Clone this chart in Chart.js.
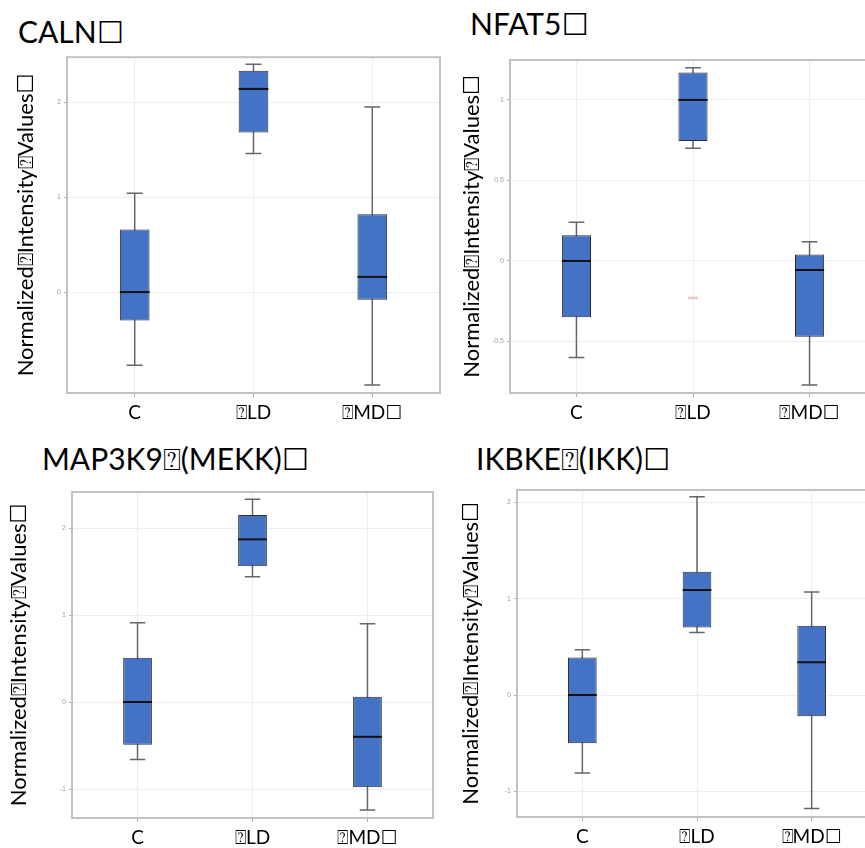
<!DOCTYPE html>
<html>
<head>
<meta charset="utf-8">
<script src="https://cdn.jsdelivr.net/npm/chart.js@4.4.1/dist/chart.umd.min.js"></script>
<style>
html, body { margin:0; padding:0; background:#fff; width:865px; height:848px; overflow:hidden; position:relative; }
.t { position:absolute; font-family:Lato, "DejaVu Sans", sans-serif; font-weight:400; font-size:30px; line-height:30px; color:#000; white-space:nowrap; }
canvas { position:absolute; }
</style>
</head>
<body>
<div class="t" id="t0" style="left:18px;top:16px"></div>
<div class="t" id="t1" style="left:470px;top:8px"></div>
<div class="t" id="t2" style="left:42px;top:443px"></div>
<div class="t" id="t3" style="left:476px;top:443px"></div>
<canvas id="c0" width="445" height="380" style="left:0;top:50px"></canvas>
<canvas id="c1" width="445" height="380" style="left:445px;top:50px"></canvas>
<canvas id="c2" width="445" height="370" style="left:0;top:480px"></canvas>
<canvas id="c3" width="445" height="370" style="left:445px;top:480px"></canvas>
<script>
// ---- data ----
const geneTitles = ['CALN\u2610', 'NFAT5\u2610', 'MAP3K9\u2370(MEKK)\u2610', 'IKBKE\u2370(IKK)\u2610'];
const yAxisTitle = 'Normalized\u2370Intensity\u2370Values\u2610';
const categories = ['C', '\u2370LD', '\u2370MD\u2610'];
const categoryX = [1, 2, 3];

const calnMin = [-0.77, 1.46, -0.98];
const calnQ1  = [-0.30, 1.68, -0.08];
const calnMed = [0.00, 2.14, 0.16];
const calnQ3  = [0.66, 2.33, 0.82];
const calnMax = [1.04, 2.40, 1.95];
const calnTicks = [0, 1, 2];

const nfat5Min = [-0.60, 0.70, -0.77];
const nfat5Q1  = [-0.35, 0.745, -0.47];
const nfat5Med = [0.00, 1.00, -0.056];
const nfat5Q3  = [0.16, 1.17, 0.04];
const nfat5Max = [0.24, 1.20, 0.12];
const nfat5Ticks = [-0.5, 0, 0.5, 1];
const nfat5OutlierCat = [2];
const nfat5OutlierVal = [-0.23];

const map3k9Min = [-0.66, 1.44, -1.24];
const map3k9Q1  = [-0.49, 1.56, -0.98];
const map3k9Med = [0.00, 1.87, -0.40];
const map3k9Q3  = [0.51, 2.15, 0.06];
const map3k9Max = [0.91, 2.33, 0.90];
const map3k9Ticks = [-1, 0, 1, 2];

const ikbkeMin = [-0.81, 0.65, -1.18];
const ikbkeQ1  = [-0.50, 0.70, -0.22];
const ikbkeMed = [0.00, 1.09, 0.34];
const ikbkeQ3  = [0.39, 1.28, 0.72];
const ikbkeMax = [0.47, 2.06, 1.07];
const ikbkeTicks = [-1, 0, 1, 2];

// ---- drawing ----
for (let i = 0; i < 4; i++) document.getElementById('t' + i).textContent = geneTitles[i];

const boxPlugin = {
  id: 'boxPlugin',
  beforeDatasetsDraw(chart) {
    const {ctx, chartArea: a, scales: {y}} = chart;
    ctx.save();
    ctx.strokeStyle = '#c2c2c2';
    ctx.lineWidth = 2;
    ctx.strokeRect(a.left, a.top, a.right - a.left, a.bottom - a.top);
    const ds = chart.data.datasets[0];
    const meta = chart.getDatasetMeta(0);
    ctx.strokeStyle = '#666';
    ctx.lineWidth = 1.5;
    meta.data.forEach((bar, i) => {
      const x = bar.x, cap = bar.width * 0.27;
      const yTop = y.getPixelForValue(ds.whiskerMax[i]);
      const yBot = y.getPixelForValue(ds.whiskerMin[i]);
      ctx.beginPath();
      ctx.moveTo(x, yTop); ctx.lineTo(x, yBot);
      ctx.moveTo(x - cap, yTop); ctx.lineTo(x + cap, yTop);
      ctx.moveTo(x - cap, yBot); ctx.lineTo(x + cap, yBot);
      ctx.stroke();
    });
    ctx.restore();
  },
  afterDatasetsDraw(chart) {
    const {ctx, scales: {y}} = chart;
    const ds = chart.data.datasets[0];
    const meta = chart.getDatasetMeta(0);
    ctx.save();
    ctx.strokeStyle = '#111';
    ctx.lineWidth = 2;
    meta.data.forEach((bar, i) => {
      const ym = y.getPixelForValue(ds.median[i]);
      ctx.beginPath();
      ctx.moveTo(bar.x - bar.width / 2, ym);
      ctx.lineTo(bar.x + bar.width / 2, ym);
      ctx.stroke();
    });
    ctx.restore();
  }
};

function makeBox(id, mins, q1, med, q3, maxs, yTicks, yMin, yMax, lay, outCat, outVal) {
  const datasets = [{
    type: 'bar',
    data: categoryX.map((x, i) => ({x: x, y: [q1[i], q3[i]]})),
    whiskerMin: mins, whiskerMax: maxs, median: med,
    backgroundColor: '#4472c4',
    borderColor: '#2e2e2e',
    borderWidth: 1,
    borderSkipped: false,
    barPercentage: 0.25,
    categoryPercentage: 1
  }];
  if (outCat) {
    datasets.push({
      type: 'scatter',
      data: outCat.map((c, i) => ({x: c, y: outVal[i]})),
      pointStyle: 'line', radius: 5, borderColor: '#f5c4c4', borderWidth: 2.5, backgroundColor: '#f5c4c4'
    });
  }
  return new Chart(document.getElementById(id), {
    type: 'bar',
    data: {datasets},
    options: {
      responsive: false, animation: false, devicePixelRatio: 1,
      layout: {padding: {top: lay.top, right: lay.right, left: 0, bottom: 0}},
      plugins: {legend: {display: false}, tooltip: {enabled: false}},
      scales: {
        x: {
          type: 'linear', min: 0.43, max: 3.57, offset: false,
          afterBuildTicks: s => { s.ticks = categoryX.map(v => ({value: v})); },
          afterFit: s => { s.height = lay.xh; },
          grid: {offset: false, color: '#ededed', lineWidth: 1, drawTicks: true, tickLength: 4, tickColor: '#b0b0b0'},
          border: {display: false},
          ticks: {autoSkip: false, maxRotation: 0, padding: 4, color: '#000',
                  font: {family: 'Lato, "DejaVu Sans"', size: 19, weight: 400},
                  callback: v => categories[categoryX.indexOf(v)]}
        },
        y: {
          type: 'linear', min: yMin, max: yMax,
          afterBuildTicks: s => { s.ticks = yTicks.map(v => ({value: v})); },
          afterFit: s => { s.width = lay.yw; },
          grid: {color: '#ededed', lineWidth: 1, drawTicks: true, tickLength: 3, tickColor: '#b0b0b0'},
          border: {display: false},
          ticks: {padding: 3, color: '#a0a0a0', font: {family: 'Liberation Sans', size: 7},
                  callback: v => String(v)},
          title: {display: true, text: yAxisTitle, color: '#000',
                  font: {family: 'Lato, "DejaVu Sans"', size: 22, weight: 400}, padding: {top: lay.tp, bottom: 0}}
        }
      }
    },
    plugins: [boxPlugin]
  });
}

makeBox('c0', calnMin, calnQ1, calnMed, calnQ3, calnMax, calnTicks, -1.063, 2.474,
        {top: 7, right: 5, xh: 37, yw: 67, tp: 13});
makeBox('c1', nfat5Min, nfat5Q1, nfat5Med, nfat5Q3, nfat5Max, nfat5Ticks, -0.82, 1.248,
        {top: 10, right: 14, xh: 37, yw: 65, tp: 14}, nfat5OutlierCat, nfat5OutlierVal);
makeBox('c2', map3k9Min, map3k9Q1, map3k9Med, map3k9Q3, map3k9Max, map3k9Ticks, -1.333, 2.414,
        {top: 12, right: 12, xh: 32, yw: 72, tp: 6});
makeBox('c3', ikbkeMin, ikbkeQ1, ikbkeMed, ikbkeQ3, ikbkeMax, ikbkeTicks, -1.267, 2.129,
        {top: 10, right: 13, xh: 33, yw: 72, tp: 13});
</script>
</body>
</html>
